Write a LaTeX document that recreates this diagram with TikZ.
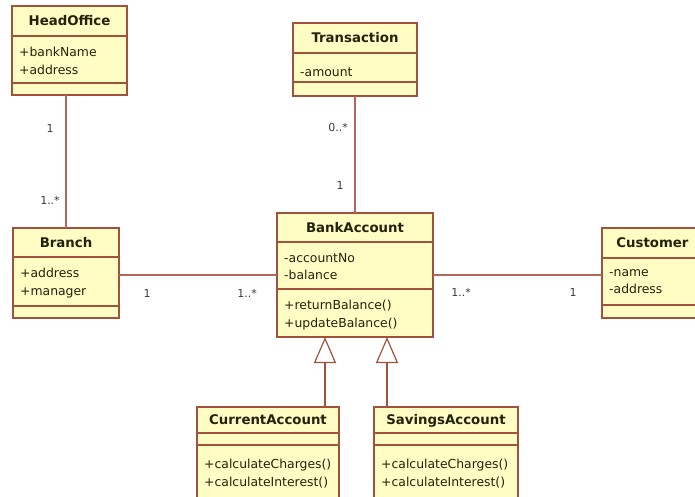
\documentclass[tikz,border=0pt]{standalone}
\usepackage{fontspec}
\setmainfont{DejaVu Sans}
\usetikzlibrary{arrows.meta}
\definecolor{umlfill}{RGB}{255,252,196}
\definecolor{umlborder}{RGB}{160,82,60}
\definecolor{umlline}{RGB}{178,102,92}
\definecolor{umltext}{RGB}{35,35,12}
\definecolor{multtext}{RGB}{60,60,55}
\tikzset{
	classbox/.style={draw=umlborder, fill=umlfill, line width=1.2pt, anchor=north west, inner sep=0pt, outer sep=0pt},
	classsep/.style={draw=umlborder, line width=1.2pt},
	classtitle/.style={font=\fontsize{13.3}{15}\selectfont\bfseries, text=umltext, inner sep=0pt, text height=9.4pt, text depth=0pt},
	members/.style={font=\fontsize{12.4}{17.5}\selectfont, text=umltext, anchor=north west, inner sep=0pt, align=left, execute at begin node=\strut},
	assoc/.style={draw=umlline, line width=1.2pt},
	inherit/.style={draw=umlborder, line width=1.2pt, -{Triangle[open, length=26pt, width=22pt]}},
	mult/.style={font=\fontsize{11}{13}\selectfont, text=multtext, inner sep=0pt}
}
% name, left, right, top, title line, attribute line, bottom, title
\newcommand{\umlclass}[8]{%
	\node[classbox, minimum width={(#3-#2)*1pt}, minimum height={(#7-#4)*1pt}] (#1) at (#2,#4) {};
	\draw[classsep] (#2,#5) -- (#3,#5);
	\draw[classsep] (#2,#6) -- (#3,#6);
	\node[classtitle] (#1-name) at ({(#2+#3)/2},{(#4+#5)/2}) {#8};
	\coordinate (#1-a) at (#2+7,#5+11);
	\coordinate (#1-o) at (#2+7,#6+11);
}

\begin{document}
\begin{tikzpicture}[x=1pt, y=-1pt]
	\useasboundingbox (0,0) rectangle (695,497);
	\clip (0,0) rectangle (695,497);
	%%%%% CLASSES %%%%%
	\umlclass{head}{12}{127}{6}{36}{83}{95}{HeadOffice}
	\node[members] (head-attrs) at (head-a) {+bankName\\+address};
	
	\umlclass{trans}{293}{417}{23}{53}{82}{96}{Transaction}
	\node[members] (trans-attrs) at (trans-a) {-amount};
	
	\umlclass{branch}{13}{119}{228}{257}{306}{318}{Branch}
	\node[members] (branch-attrs) at (branch-a) {+address\\+manager};
	
	\umlclass{bank}{277}{433}{213}{242}{289}{337}{BankAccount}
	\node[members] (bank-attrs) at (bank-a) {-accountNo\\-balance};
	\node[members] (bank-ops) at (bank-o) {+returnBalance()\\+updateBalance()};
	
	\umlclass{cust}{602}{703}{228}{258}{305}{318}{Customer}
	\node[members] (cust-attrs) at (cust-a) {-name\\-address};
	
	\umlclass{current}{197}{339}{407}{433}{445}{502}{CurrentAccount}
	\node[members] (current-ops) at ([yshift=-3pt]current-o) {+calculateCharges()\\+calculateInterest()};
	
	\umlclass{savings}{374}{518}{407}{433}{445}{502}{SavingsAccount}
	\node[members] (savings-ops) at ([yshift=-3pt]savings-o) {+calculateCharges()\\+calculateInterest()};
	
	%%%%% ASSOCIATIONS %%%%%
	\draw[assoc] (branch.north) -- (branch.north |- head.south);
	\draw[assoc] (trans.south) -- (bank.north);
	\draw[assoc] (bank.west) -- (bank.west -| branch.east);
	\draw[assoc] (bank.east) -- (bank.east -| cust.west);
	
	\node[mult] (m-head) at (50,128) {1};
	\node[mult] (m-branch) at (50,200) {1..*};
	\node[mult] (m-trans) at (338,127) {0..*};
	\node[mult] (m-bank1) at (340,185) {1};
	\node[mult] (m-branch2) at (147,293) {1};
	\node[mult] (m-bank2) at (247,293) {1..*};
	\node[mult] (m-bank3) at (461,292) {1..*};
	\node[mult] (m-cust) at (573,292) {1};
	
	%%%%% GENERALISATION %%%%%
	\draw[inherit] ([xshift=-30pt]bank.south |- current.north) -- ([xshift=-30pt]bank.south);
	\draw[inherit] ([xshift=32pt]bank.south |- savings.north) -- ([xshift=32pt]bank.south);
\end{tikzpicture}
\end{document}
